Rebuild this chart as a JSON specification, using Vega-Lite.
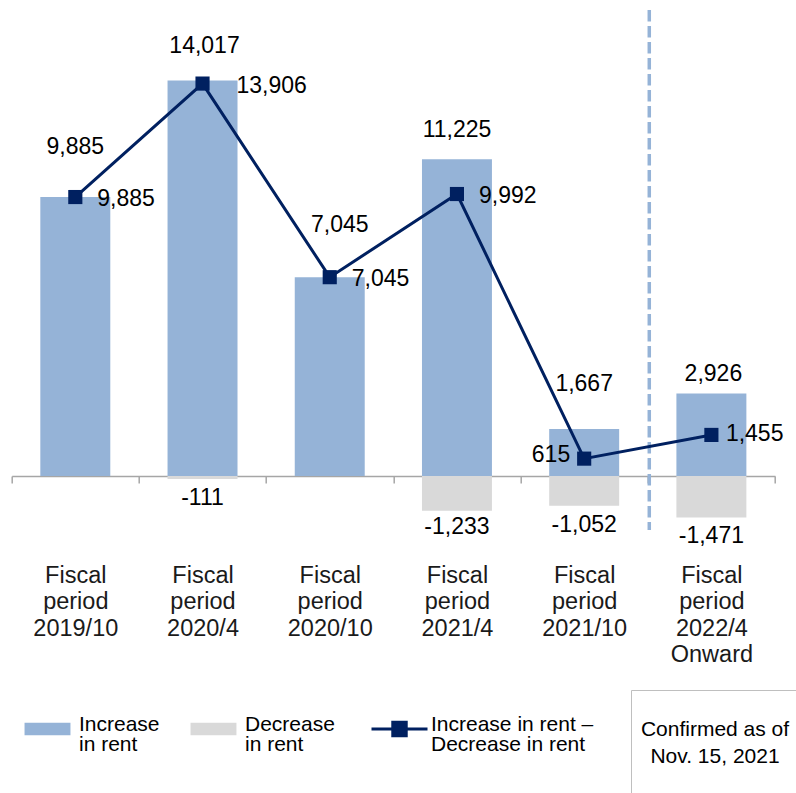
{
  "$schema": "https://vega.github.io/schema/vega-lite/v6.json",
  "autosize": {"type": "none"},
  "width": 763.3,
  "height": 520,
  "padding": {"left": 11.7, "top": 10, "right": 21, "bottom": 263},
  "config": {
    "view": {"stroke": null},
    "font": "Liberation Sans",
    "locale": {"number": {"decimal": ".", "thousands": ",", "grouping": [3], "currency": ["$", ""], "minus": "-"}}
  },
  "data": {
    "values": [
      {"period": "Fiscal period 2019/10", "type": "inc", "value": 9885},
      {"period": "Fiscal period 2019/10", "type": "net", "value": 9885},
      {"period": "Fiscal period 2020/4", "type": "inc", "value": 14017},
      {"period": "Fiscal period 2020/4", "type": "dec", "value": -111},
      {"period": "Fiscal period 2020/4", "type": "net", "value": 13906},
      {"period": "Fiscal period 2020/10", "type": "inc", "value": 7045},
      {"period": "Fiscal period 2020/10", "type": "net", "value": 7045},
      {"period": "Fiscal period 2021/4", "type": "inc", "value": 11225},
      {"period": "Fiscal period 2021/4", "type": "dec", "value": -1233},
      {"period": "Fiscal period 2021/4", "type": "net", "value": 9992},
      {"period": "Fiscal period 2021/10", "type": "inc", "value": 1667},
      {"period": "Fiscal period 2021/10", "type": "dec", "value": -1052},
      {"period": "Fiscal period 2021/10", "type": "net", "value": 615},
      {"period": "Fiscal period 2022/4 Onward", "type": "inc", "value": 2926},
      {"period": "Fiscal period 2022/4 Onward", "type": "dec", "value": -1471},
      {"period": "Fiscal period 2022/4 Onward", "type": "net", "value": 1455}
    ]
  },
  "encoding": {
    "x": {
      "field": "period",
      "type": "nominal",
      "sort": null,
      "scale": {"paddingInner": 0, "paddingOuter": 0},
      "axis": {
        "title": null,
        "labelAngle": 0,
        "labelExpr": "split(datum.label, ' ')",
        "labelFont": "Liberation Sans",
        "labelFontSize": 23.5,
        "labelLineHeight": 26.5,
        "labelColor": "#1a1a1a",
        "labelBaseline": "top",
        "labelPadding": 80,
        "labelOverlap": false,
        "labelBound": false,
        "labelLimit": 0,
        "domainColor": "#a6a6a6",
        "domainWidth": 1.5,
        "tickColor": "#a6a6a6",
        "tickWidth": 1.5,
        "tickSize": 7,
        "tickBand": "extent",
        "offset": -54,
        "grid": false
      }
    },
    "y": {
      "field": "value",
      "type": "quantitative",
      "scale": {"domain": [-1914, 16513], "nice": false, "zero": false},
      "axis": null
    }
  },
  "layer": [
    {
      "transform": [{"filter": "datum.type != 'net'"}],
      "mark": {"type": "bar", "width": {"band": 0.55}},
      "encoding": {
        "y": {"field": "value", "type": "quantitative", "stack": null},
        "color": {
          "field": "type",
          "type": "nominal",
          "scale": {"domain": ["inc", "dec", "net"], "range": ["#95b3d7", "#d9d9d9", "#002060"]},
          "legend": {
            "orient": "none",
            "legendX": 25.3,
            "legendY": 708.5,
            "direction": "horizontal",
            "title": null,
            "labelExpr": "datum.label == 'inc' ? ['Increase', 'in rent'] : datum.label == 'dec' ? ['Decrease', 'in rent'] : ['Increase in rent –', 'Decrease in rent']",
            "labelFont": "Liberation Sans",
            "labelFontSize": 21,
            "labelColor": "#000000",
            "labelLimit": 300,
            "labelOffset": 21,
            "columnPadding": 30,
            "symbolSize": 3136,
            "encode": {
              "symbols": {
                "update": {
                  "shape": {"signal": "datum.value == 'net' ? 'M-1,0H1M-0.24,-0.24H0.24V0.24H-0.24Z' : 'M-0.82,-0.22H0.82V0.22H-0.82Z'"},
                  "fill": {"signal": "scale('color', datum.value)"},
                  "stroke": {"signal": "scale('color', datum.value)"},
                  "strokeWidth": {"signal": "datum.value == 'net' ? 3 : 0"},
                  "opacity": {"value": 1}
                }
              },
              "labels": {
                "update": {
                  "lineHeight": {"value": 20},
                  "dy": {"value": -4.5}
                }
              }
            }
          }
        }
      }
    },
    {
      "data": {"values": [{"period": "Fiscal period 2022/4 Onward", "note": "Confirmed as of Nov. 15, 2021"}]},
      "mark": {"type": "rule", "color": "#95b3d7", "strokeWidth": 3.5, "xOffset": 1.5, "strokeCap": "butt"},
      "encoding": {
        "x": {"field": "period", "type": "nominal", "bandPosition": 0},
        "y": null,
        "strokeDash": {
          "field": "note",
          "type": "nominal",
          "scale": {"range": [[11.5, 4.5]]},
          "legend": {
            "orient": "none",
            "legendX": 619.3,
            "legendY": 680,
            "title": ["Confirmed as of", "Nov. 15, 2021", ""],
            "titleOrient": "bottom",
            "titleFont": "Liberation Sans",
            "titleFontSize": 21,
            "titleFontWeight": "normal",
            "titleLineHeight": 26.5,
            "titleAlign": "center",
            "titleAnchor": "middle",
            "titleBaseline": "line-top",
            "titleColor": "#000000",
            "titlePadding": 6,
            "titleLimit": 400,
            "padding": 10,
            "strokeColor": "#bfbfbf",
            "labelExpr": "''",
            "labelFontSize": 8,
            "symbolOpacity": 0,
            "symbolSize": 144
          }
        }
      }
    },
    {
      "transform": [{"filter": "datum.type == 'net'"}],
      "mark": {"type": "line", "strokeWidth": 3, "point": {"shape": "square", "size": 200, "filled": true}},
      "encoding": {
        "color": {"field": "type", "type": "nominal"}
      }
    },
    {
      "encoding": {
        "text": {"field": "value", "type": "quantitative", "format": ",d"}
      },
      "layer": [
        {
          "transform": [{"filter": "datum.type == 'inc' && datum.period == 'Fiscal period 2019/10'"}],
          "mark": {"type": "text", "fontSize": 23, "color": "#000000", "baseline": "middle", "dy": -50}
        },
        {
          "transform": [{"filter": "datum.type == 'inc' && datum.period == 'Fiscal period 2020/4'"}],
          "mark": {"type": "text", "fontSize": 23, "color": "#000000", "baseline": "middle", "dy": -34, "dx": 2}
        },
        {
          "transform": [{"filter": "datum.type == 'inc' && datum.period == 'Fiscal period 2020/10'"}],
          "mark": {"type": "text", "fontSize": 23, "color": "#000000", "baseline": "middle", "dy": -52, "dx": 10}
        },
        {
          "transform": [{"filter": "datum.type == 'inc' && datum.period == 'Fiscal period 2021/4'"}],
          "mark": {"type": "text", "fontSize": 23, "color": "#000000", "baseline": "middle", "dy": -29}
        },
        {
          "transform": [{"filter": "datum.type == 'inc' && datum.period == 'Fiscal period 2021/10'"}],
          "mark": {"type": "text", "fontSize": 23, "color": "#000000", "baseline": "middle", "dy": -45}
        },
        {
          "transform": [{"filter": "datum.type == 'inc' && datum.period == 'Fiscal period 2022/4 Onward'"}],
          "mark": {"type": "text", "fontSize": 23, "color": "#000000", "baseline": "middle", "dy": -19, "dx": 2}
        },
        {
          "transform": [{"filter": "datum.type == 'dec' && datum.period != 'Fiscal period 2021/4'"}],
          "mark": {"type": "text", "fontSize": 23, "color": "#000000", "baseline": "middle", "dy": 19}
        },
        {
          "transform": [{"filter": "datum.type == 'dec' && datum.period == 'Fiscal period 2021/4'"}],
          "mark": {"type": "text", "fontSize": 23, "color": "#000000", "baseline": "middle", "dy": 16.5}
        },
        {
          "transform": [{"filter": "datum.type == 'net' && (datum.period == 'Fiscal period 2019/10' || datum.period == 'Fiscal period 2020/10' || datum.period == 'Fiscal period 2021/4')"}],
          "mark": {"type": "text", "fontSize": 23, "color": "#000000", "baseline": "middle", "align": "left", "dx": 22, "dy": 1.5}
        },
        {
          "transform": [{"filter": "datum.type == 'net' && datum.period == 'Fiscal period 2020/4'"}],
          "mark": {"type": "text", "fontSize": 23, "color": "#000000", "baseline": "middle", "align": "left", "dx": 34, "dy": 2.5}
        },
        {
          "transform": [{"filter": "datum.type == 'net' && datum.period == 'Fiscal period 2022/4 Onward'"}],
          "mark": {"type": "text", "fontSize": 23, "color": "#000000", "baseline": "middle", "align": "left", "dx": 14.5, "dy": -1}
        },
        {
          "transform": [{"filter": "datum.type == 'net' && datum.period == 'Fiscal period 2021/10'"}],
          "mark": {"type": "text", "fontSize": 23, "color": "#000000", "baseline": "middle", "align": "right", "dx": -14, "dy": -4}
        }
      ]
    }
  ]
}
